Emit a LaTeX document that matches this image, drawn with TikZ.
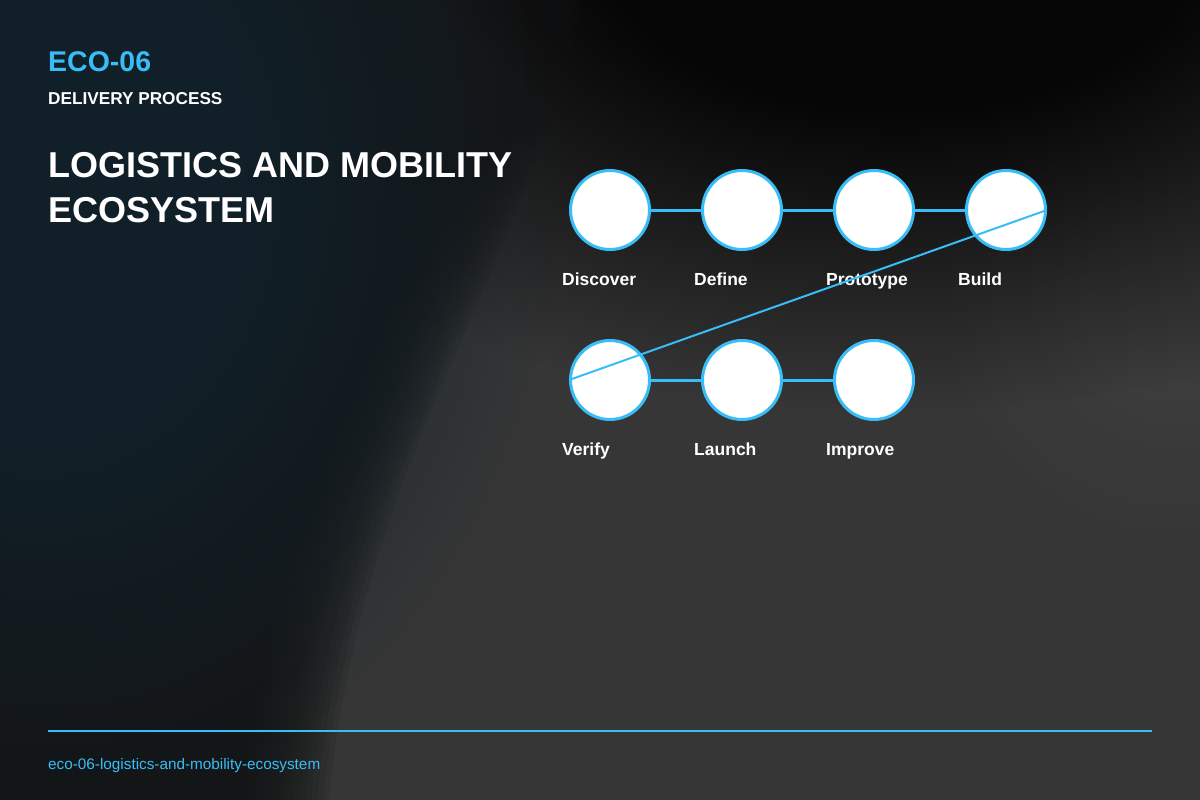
\documentclass[tikz,border=0pt]{standalone}
\usepackage{fontspec}
\setmainfont{Liberation Sans}
\usetikzlibrary{fadings}

\definecolor{ecoblue}{HTML}{38BDF8}
\definecolor{basegray}{HTML}{363636}
\definecolor{topdark}{HTML}{060606}
\definecolor{banddark}{HTML}{141516}
\definecolor{navydark}{HTML}{10212B}

% soft spot: opaque core, fading out to the rim
\pgfdeclareradialshading{softspotshade}{\pgfpointorigin}{color(0bp)=(transparent!0); color(9bp)=(transparent!0); color(25bp)=(transparent!100); color(50bp)=(transparent!100)}
\pgfdeclarefading{softspot}{\pgfuseshading{softspotshade}}

\begin{document}
\begin{tikzpicture}[x=1pt, y=-1pt,
  stepdot/.style={circle, draw=ecoblue, line width=3pt, fill=white, minimum size=79pt, inner sep=0pt},
  steplabel/.style={anchor=base west, inner sep=0pt, text=white, font=\fontsize{17.5}{21}\selectfont\bfseries},
  link/.style={draw=ecoblue, line width=3pt},
  jump/.style={draw=ecoblue, line width=2pt}]
\useasboundingbox (0,0) rectangle (1200,800);

% background
\begin{scope}
\clip (0,0) rectangle (1200,800);
\fill[basegray] (0,0) rectangle (1200,800);
\fill[white, opacity=0.03, path fading=softspot] (1180,300) ellipse [x radius=260, y radius=260];
\fill[topdark, path fading=softspot] (900,-60) ellipse [x radius=820, y radius=470];
\foreach \k in {0,...,19}
  \fill[banddark, opacity=0.14] (0,0) -- (470+6*\k,0) .. controls (400+6*\k,300) and (250+6*\k,450) .. (215+6*\k,800) -- (0,800) -- cycle;
\fill[navydark, opacity=0.9, path fading=softspot] (40,180) ellipse [x radius=520, y radius=640];
\end{scope}

% heading
\node[anchor=base west, inner sep=0pt, text=ecoblue, font=\fontsize{28.5}{32}\selectfont\bfseries] (code) at (48,72) {ECO-06};
\node[anchor=base west, inner sep=0pt, text=white, font=\fontsize{17.2}{20}\selectfont\bfseries] (kind) at (48,104) {DELIVERY PROCESS};
\node[anchor=base west, inner sep=0pt, text=white, font=\fontsize{36}{45}\selectfont\bfseries] (title) at (48,177) {LOGISTICS AND MOBILITY};
\node[anchor=base west, inner sep=0pt, text=white, font=\fontsize{36}{45}\selectfont\bfseries] (titlecont) at (48,222) {ECOSYSTEM};

% steps
\node[stepdot] (discover) at (610,210) {};
\node[stepdot] (define) at (742,210) {};
\node[stepdot] (prototype) at (874,210) {};
\node[stepdot] (build) at (1006,210) {};
\node[stepdot] (verify) at (610,380) {};
\node[stepdot] (launch) at (742,380) {};
\node[stepdot] (improve) at (874,380) {};

\node[steplabel] (discoverlbl) at (562,285) {Discover};
\node[steplabel] (definelbl) at (694,285) {Define};
\node[steplabel] (prototypelbl) at (826,285) {Prototype};
\node[steplabel] (buildlbl) at (958,285) {Build};
\node[steplabel] (verifylbl) at (562,455) {Verify};
\node[steplabel] (launchlbl) at (694,455) {Launch};
\node[steplabel] (improvelbl) at (826,455) {Improve};

\draw[link] (discover) -- (define);
\draw[link] (define) -- (prototype);
\draw[link] (prototype) -- (build);
\draw[link] (verify) -- (launch);
\draw[link] (launch) -- (improve);
\draw[jump] (build.east) -- (verify.west);

% footer
\coordinate (ruleL) at (48,731);
\coordinate (ruleR) at (1152,731);
\draw[ecoblue, line width=2pt] (ruleL) -- (ruleR);
\node[anchor=base west, inner sep=0pt, text=ecoblue, font=\fontsize{15.3}{18}\selectfont] (slug) at (48,769) {eco-06-logistics-and-mobility-ecosystem};
\end{tikzpicture}
\end{document}
